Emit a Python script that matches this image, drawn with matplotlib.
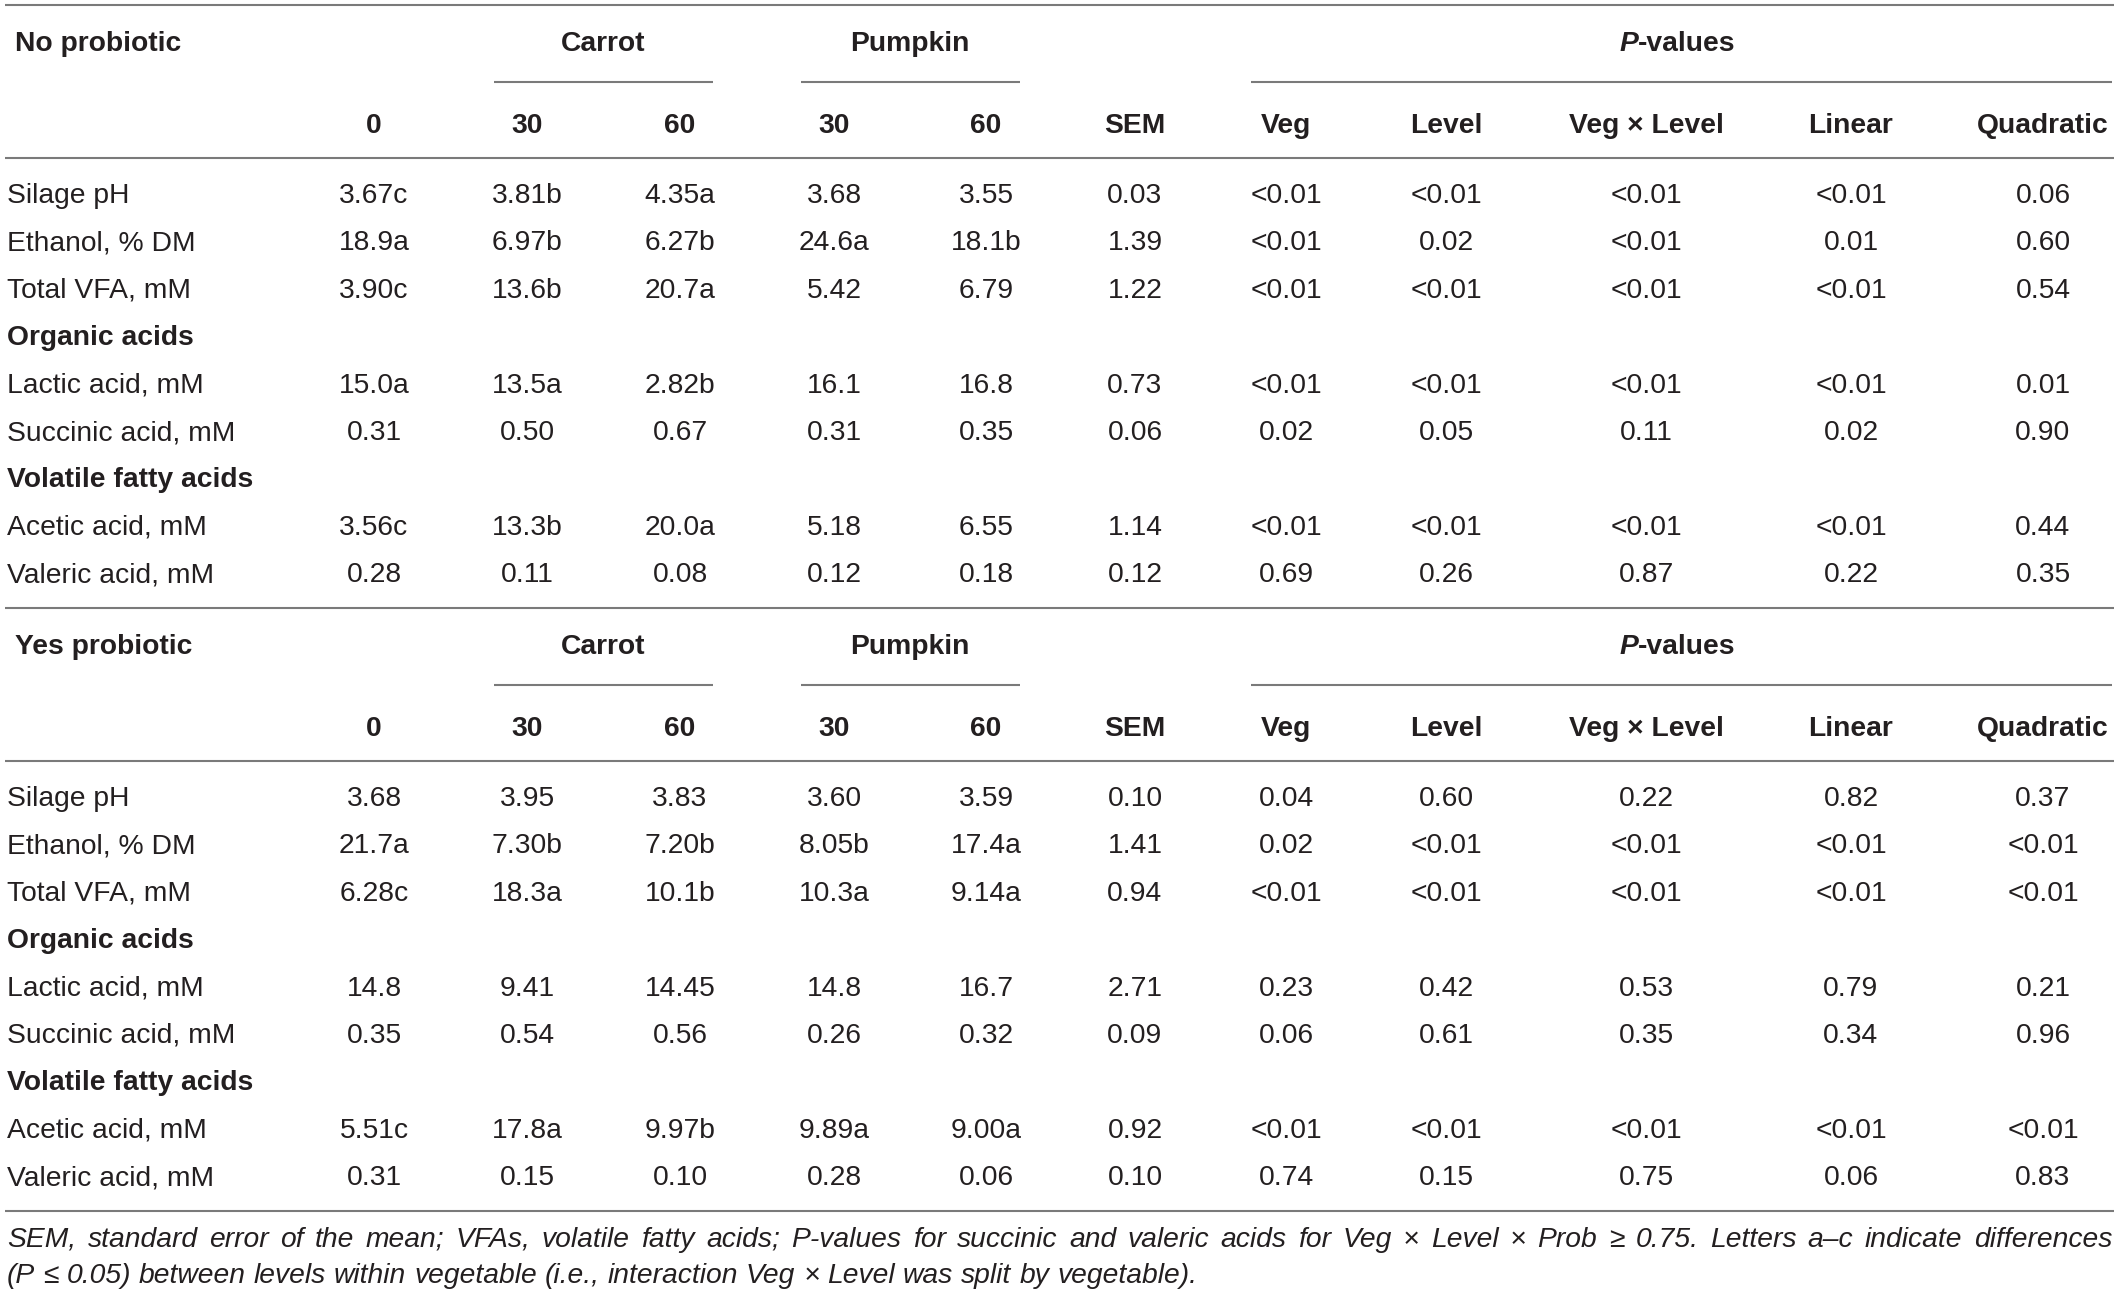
import matplotlib
matplotlib.use("Agg")
import matplotlib.pyplot as plt

# ---- data ----
col_labels = ["0", "30", "60", "30", "60", "SEM", "Veg", "Level", "Veg × Level", "Linear", "Quadratic"]
row_labels = ["Silage pH", "Ethanol, % DM", "Total VFA, mM", "Organic acids",
              "Lactic acid, mM", "Succinic acid, mM", "Volatile fatty acids",
              "Acetic acid, mM", "Valeric acid, mM"]
section_rows = ["Organic acids", "Volatile fatty acids"]

no_probiotic = [
    ["3.67c", "3.81b", "4.35a", "3.68", "3.55", "0.03", "<0.01", "<0.01", "<0.01", "<0.01", "0.06"],
    ["18.9a", "6.97b", "6.27b", "24.6a", "18.1b", "1.39", "<0.01", "0.02", "<0.01", "0.01", "0.60"],
    ["3.90c", "13.6b", "20.7a", "5.42", "6.79", "1.22", "<0.01", "<0.01", "<0.01", "<0.01", "0.54"],
    None,
    ["15.0a", "13.5a", "2.82b", "16.1", "16.8", "0.73", "<0.01", "<0.01", "<0.01", "<0.01", "0.01"],
    ["0.31", "0.50", "0.67", "0.31", "0.35", "0.06", "0.02", "0.05", "0.11", "0.02", "0.90"],
    None,
    ["3.56c", "13.3b", "20.0a", "5.18", "6.55", "1.14", "<0.01", "<0.01", "<0.01", "<0.01", "0.44"],
    ["0.28", "0.11", "0.08", "0.12", "0.18", "0.12", "0.69", "0.26", "0.87", "0.22", "0.35"],
]
yes_probiotic = [
    ["3.68", "3.95", "3.83", "3.60", "3.59", "0.10", "0.04", "0.60", "0.22", "0.82", "0.37"],
    ["21.7a", "7.30b", "7.20b", "8.05b", "17.4a", "1.41", "0.02", "<0.01", "<0.01", "<0.01", "<0.01"],
    ["6.28c", "18.3a", "10.1b", "10.3a", "9.14a", "0.94", "<0.01", "<0.01", "<0.01", "<0.01", "<0.01"],
    None,
    ["14.8", "9.41", "14.45", "14.8", "16.7", "2.71", "0.23", "0.42", "0.53", "0.79", "0.21"],
    ["0.35", "0.54", "0.56", "0.26", "0.32", "0.09", "0.06", "0.61", "0.35", "0.34", "0.96"],
    None,
    ["5.51c", "17.8a", "9.97b", "9.89a", "9.00a", "0.92", "<0.01", "<0.01", "<0.01", "<0.01", "<0.01"],
    ["0.31", "0.15", "0.10", "0.28", "0.06", "0.10", "0.74", "0.15", "0.75", "0.06", "0.83"],
]
blocks = [("No probiotic", no_probiotic), ("Yes probiotic", yes_probiotic)]

footnote = [
    "SEM, standard error of the mean; VFAs, volatile fatty acids; P-values for succinic and valeric acids for "
    "Veg × Level × Prob ≥ 0.75. Letters a–c indicate differences",
    "(P ≤ 0.05) between levels within vegetable (i.e., interaction Veg × Level was split by vegetable).",
]

# ---- layout (pixels) ----
W, H = 2118, 1296
col_x = [374, 527, 680, 834, 986, 1135, 1286, 1446, 1646, 1851, 2043]
block_top = [0, 603]
row_step = 47.4
txt = "#231f20"
rule = "#7a7a7a"
fs = 20.3

plt.rcParams["font.family"] = ["Liberation Sans", "DejaVu Sans"]
fig = plt.figure(figsize=(W / 100, H / 100), dpi=100)
ax = fig.add_axes([0, 0, 1, 1])
ax.set_xlim(0, W)
ax.set_ylim(H, 0)
ax.axis("off")

ax.hlines(5, 5, 2114, color=rule, lw=1.5)

for (title, rows), y0 in zip(blocks, block_top):
    y0 = y0 + 3
    ax.text(15, y0 + 41, title, ha="left", va="center", fontsize=fs, fontweight="bold", color=txt)
    ax.text((col_x[1] + col_x[2]) / 2, y0 + 41, "Carrot", ha="center", va="center",
            fontsize=fs, fontweight="bold", color=txt)
    ax.text((col_x[3] + col_x[4]) / 2, y0 + 41, "Pumpkin", ha="center", va="center",
            fontsize=fs, fontweight="bold", color=txt)
    ax.text(1638, y0 + 41, "P", ha="right", va="center", fontsize=fs, fontweight="bold",
            fontstyle="italic", color=txt)
    ax.text(1638, y0 + 41, "-values", ha="left", va="center", fontsize=fs, fontweight="bold", color=txt)
    ax.hlines(y0 + 79, 494, 713, color=rule, lw=1.5)
    ax.hlines(y0 + 79, 801, 1020, color=rule, lw=1.5)
    ax.hlines(y0 + 79, 1251, 2112, color=rule, lw=1.5)

    for x, lab in zip(col_x, col_labels):
        ax.text(x, y0 + 123, lab, ha="center", va="center", fontsize=fs, fontweight="bold", color=txt)
    ax.hlines(y0 + 155, 5, 2114, color=rule, lw=1.5)

    for i, (lab, vals) in enumerate(zip(row_labels, rows)):
        y = y0 + 193 + i * row_step
        bold = lab in section_rows
        ax.text(7, y, lab, ha="left", va="center", fontsize=fs,
                fontweight="bold" if bold else "normal", color=txt)
        if vals is None:
            continue
        for x, v in zip(col_x, vals):
            ax.text(x, y, v, ha="center", va="center", fontsize=fs, color=txt)
    ax.hlines(y0 + 605, 5, 2114, color=rule, lw=1.5)

# footnote: first line justified across the table width, last line ragged
renderer = fig.canvas.get_renderer()
left, right = 7, 2112
for i, line in enumerate(footnote):
    y = 1240 + i * 36
    words = line.split(" ")
    items = []
    for w in words:
        t = ax.text(0, y, w, ha="left", va="center", fontsize=20.3, fontstyle="italic", color=txt)
        items.append((t, t.get_window_extent(renderer).width))
    if i < len(footnote) - 1:
        gap = (right - left - sum(wd for _, wd in items)) / (len(items) - 1)
    else:
        sp = ax.text(0, y, "a a", fontsize=20.3, fontstyle="italic")
        a1 = ax.text(0, y, "aa", fontsize=20.3, fontstyle="italic")
        gap = sp.get_window_extent(renderer).width - a1.get_window_extent(renderer).width
        sp.remove()
        a1.remove()
    x = left
    for t, wd in items:
        t.set_x(x)
        x += wd + gap

fig.savefig("out.png", dpi=100)
